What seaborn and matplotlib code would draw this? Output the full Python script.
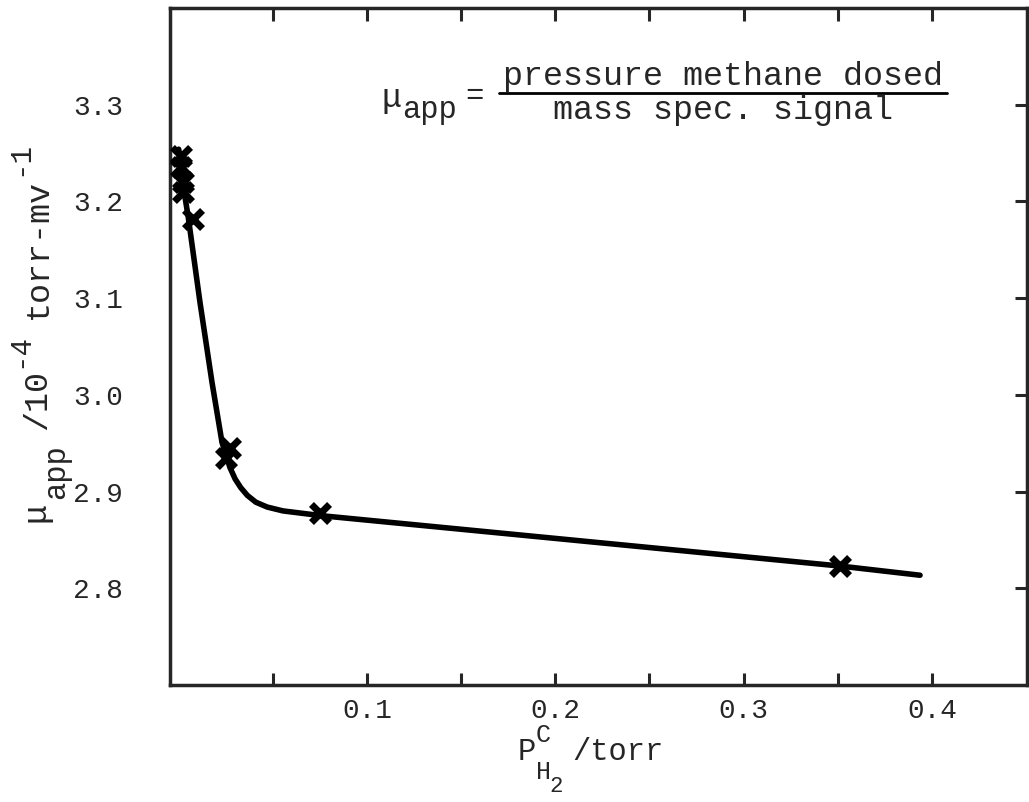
import matplotlib
matplotlib.use("Agg")
import matplotlib.pyplot as plt
from matplotlib.lines import Line2D
import seaborn as sns
import pandas as pd

# Measured points: apparent sensitivity vs. hydrogen pressure
p_h2 = [0.0010, 0.0015, 0.0022, 0.0022, 0.0075, 0.0250, 0.0270, 0.0750, 0.3510]
mu_app = [3.247, 3.236, 3.220, 3.210, 3.182, 2.935, 2.945, 2.878, 2.823]

# Smooth curve drawn through the data
curve_p = [0.0000, 0.0012, 0.0028, 0.0050, 0.0113, 0.0177, 0.0230, 0.0272,
           0.0300, 0.0330, 0.0365, 0.0410, 0.0470, 0.0554, 0.0761, 0.3512, 0.3937]
curve_mu = [3.254, 3.242, 3.211, 3.185, 3.096, 3.013, 2.951, 2.925,
            2.913, 2.904, 2.896, 2.889, 2.884, 2.880, 2.875, 2.823, 2.8135]

x_ticks = [0.05, 0.10, 0.15, 0.20, 0.25, 0.30, 0.35, 0.40]
x_labels = ["", "0.1", "", "0.2", "", "0.3", "", "0.4"]
y_ticks = [2.8, 2.9, 3.0, 3.1, 3.2, 3.3]
y_labels = ["2.8", "2.9", "3.0", "3.1", "3.2", "3.3"]

sns.set_style("ticks")
mono = "Liberation Mono"
plt.rcParams["font.family"] = [mono, "DejaVu Sans Mono"]

W, H = 1029, 802
fig = plt.figure(figsize=(W / 100, H / 100), dpi=100)
ax = fig.add_axes([170 / W, 1 - 685 / H, 857 / W, 677 / H])

curve = pd.DataFrame({"p": curve_p, "mu": curve_mu})
pts = pd.DataFrame({"p": p_h2, "mu": mu_app})

sns.lineplot(data=curve, x="p", y="mu", ax=ax, color="black", lw=4,
             sort=False, estimator=None)
sns.scatterplot(data=pts, x="p", y="mu", ax=ax, marker="x", s=170,
                color="black", linewidth=5, zorder=5)

ax.set_xlim(-0.0046, 0.4505)
ax.set_ylim(2.70, 3.40)

ax.set_xticks(x_ticks)
ax.set_xticklabels(x_labels)
ax.tick_params(axis="x", direction="in", top=True, bottom=True, length=9,
               width=2.2, labelsize=20, pad=9)

ax.set_yticks(y_ticks)
ax.set_yticklabels(y_labels)
ax.tick_params(axis="y", direction="in", left=False, right=True, length=9,
               width=2.2, labelsize=20, pad=34, labelleft=True)

for s in ax.spines.values():
    s.set_linewidth(2.5)
    s.set_visible(True)
ax.set_xlabel("")
ax.set_ylabel("")


def put(px, py, s, size=22, rot=0, ha="center"):
    fig.text(px / W, 1 - py / H, s, fontsize=size, rotation=rot,
             ha=ha, va="center", family=[mono, "DejaVu Sans"])


# y-axis title, typed piece by piece (rotated)
put(36, 512, "\u03bc", 24, 90)
put(56, 472, "app", 22, 90)
put(38, 400, "/10", 24, 90)
put(19, 350, "-4", 21, 90)
put(38, 249, "torr-mv", 24, 90)
put(19, 158, "-1", 21, 90)

# x-axis title
put(527, 752, "P", 22)
put(543, 735, "C", 18)
put(543, 772, "H", 18)
put(556, 786, "2", 16)
put(572, 752, "/torr", 22, ha="left")

# definition of the apparent sensitivity
put(392, 98, "\u03bc", 24)
put(430, 110, "app", 22)
put(474, 96, "=", 22)
put(723, 77, "pressure methane dosed", 24)
fig.add_artist(Line2D([499 / W, 947 / W], [1 - 93 / H, 1 - 93 / H],
                      color="black", lw=2, transform=fig.transFigure))
put(723, 110, "mass spec. signal", 24)

fig.savefig("out.png", dpi=100, facecolor="white")
